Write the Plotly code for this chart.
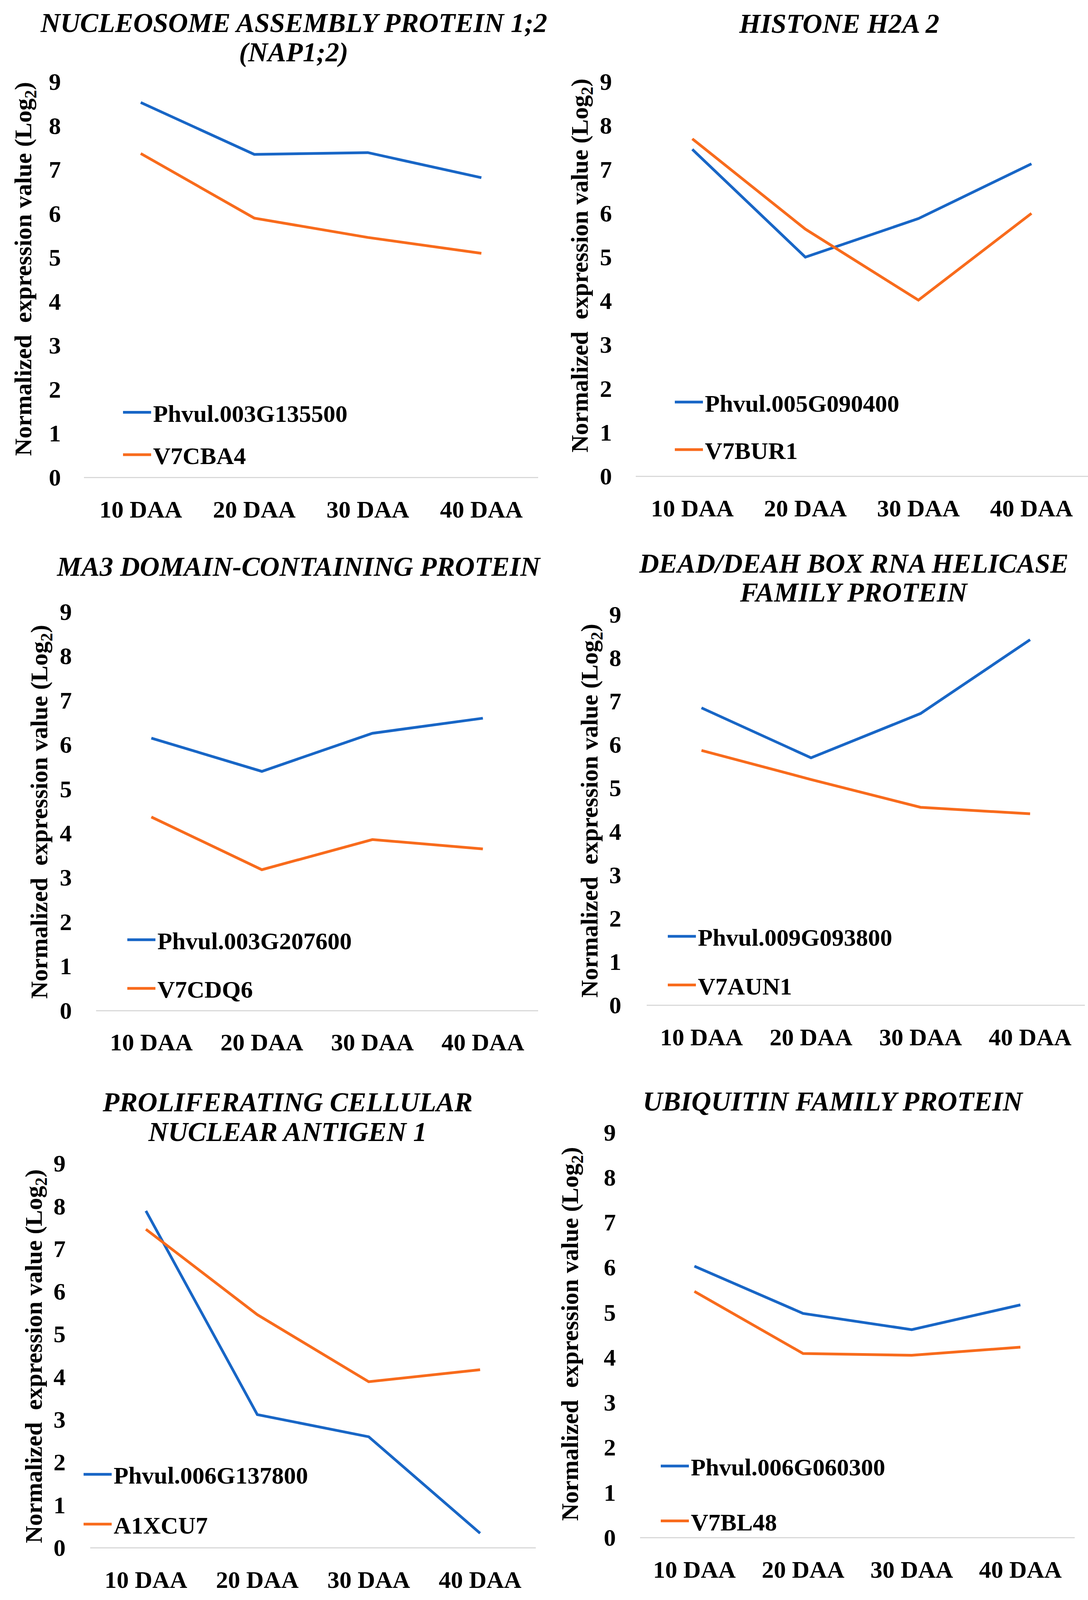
import plotly.graph_objects as go

REF_W, REF_H = 2786, 4226      # reference picture size
FIG_W, FIG_H = 2786, 4096      # visible viewport of the browser window
K = FIG_H / REF_H              # vertical pixel scale

categories = ["10 DAA", "20 DAA", "30 DAA", "40 DAA"]
y_ticks = [0, 1, 2, 3, 4, 5, 6, 7, 8, 9]

titles = [
    ["NUCLEOSOME ASSEMBLY PROTEIN 1;2", "(NAP1;2)"],
    ["HISTONE H2A 2"],
    ["MA3 DOMAIN-CONTAINING PROTEIN"],
    ["DEAD/DEAH BOX RNA HELICASE", "FAMILY PROTEIN"],
    ["PROLIFERATING CELLULAR", "NUCLEAR ANTIGEN 1"],
    ["UBIQUITIN FAMILY PROTEIN"],
]

blue_names = ["Phvul.003G135500", "Phvul.005G090400", "Phvul.003G207600",
              "Phvul.009G093800", "Phvul.006G137800", "Phvul.006G060300"]
orange_names = ["V7CBA4", "V7BUR1", "V7CDQ6", "V7AUN1", "A1XCU7", "V7BL48"]

blue_values = [
    [8.52, 7.34, 7.38, 6.81],
    [7.45, 4.99, 5.87, 7.12],
    [6.14, 5.39, 6.25, 6.59],
    [6.84, 5.69, 6.71, 8.41],
    [7.88, 3.11, 2.59, 0.33],
    [6.02, 4.97, 4.61, 5.16],
]
orange_values = [
    [7.36, 5.89, 5.45, 5.09],
    [7.69, 5.63, 4.01, 5.99],
    [4.36, 3.17, 3.85, 3.64],
    [5.86, 5.19, 4.55, 4.40],
    [7.45, 5.45, 3.88, 4.16],
    [5.46, 4.08, 4.04, 4.22],
]

y_title = "Normalized\u00a0 expression value (Log<sub>2</sub>)"

# layout, in reference pixels
plot_boxes = [  # x0, x1, y_top(9), y_bottom(0)
    (215, 1378, 215, 1260),
    (1628, 2786, 215, 1257),
    (246, 1378, 1615, 2668),
    (1656, 2778, 1622, 2654),
    (231, 1372, 3072, 4087),
    (1639, 2752, 2990, 4060),
]
ytick_standoff = [58, 60, 61, 64, 62, 61]
title_pos = [
    (752, [60, 138]),
    (2148, [62]),
    (765, [1497]),
    (2186, [1488, 1565]),
    (736, [2911, 2989]),
    (2133, [2909]),
]
ytitle_pos = [(63, 711), (1488, 702), (104, 2145), (1513, 2142), (91, 3583), (1464, 3524)]
legend_pos = [  # symbol start x, first row y, row gap
    (315, 1082, 109),
    (1728, 1055, 122),
    (326, 2475, 125),
    (1710, 2466, 125),
    (214, 3887, 128),
    (1692, 3865, 142),
]

BLUE = "#1866C6"
ORANGE = "#F86B1C"
FONT = "Liberation Serif"
TICK_FS = 62
TITLE_FS = 70


def px(x):
    return x / REF_W


def py(y):
    return 1 - y / REF_H


fig = go.Figure()
annotations = []
layout_updates = {}

for i in range(6):
    n = i + 1
    xa = "x" if n == 1 else f"x{n}"
    ya = "y" if n == 1 else f"y{n}"
    lg = "legend" if n == 1 else f"legend{n}"
    fig.add_trace(go.Scatter(x=categories, y=blue_values[i], mode="lines",
                             name=blue_names[i], line=dict(color=BLUE, width=7),
                             xaxis=xa, yaxis=ya, legend=lg, legendgroup=f"b{n}"))
    fig.add_trace(go.Scatter(x=categories, y=orange_values[i], mode="lines",
                             name=orange_names[i], line=dict(color=ORANGE, width=7),
                             xaxis=xa, yaxis=ya, legend=lg, legendgroup=f"o{n}"))
    x0, x1, yt, yb = plot_boxes[i]
    xkey = "xaxis" if n == 1 else f"xaxis{n}"
    ykey = "yaxis" if n == 1 else f"yaxis{n}"
    layout_updates[xkey] = dict(
        domain=[px(x0), px(x1)], anchor=ya, type="category",
        range=[-0.5, 3.5], showgrid=False, zeroline=False,
        showline=True, linecolor="#D9D9D9", linewidth=3, ticks="",
        tickfont=dict(family=FONT, size=TICK_FS, color="black", weight="bold"),
        ticklabelstandoff=int(27 * K), fixedrange=True, automargin=False,
    )
    layout_updates[ykey] = dict(
        domain=[py(yb), py(yt)], anchor=xa, range=[0, 9],
        tickvals=y_ticks, showgrid=False, zeroline=False, showline=False,
        ticks="", tickfont=dict(family=FONT, size=TICK_FS, color="black", weight="bold"),
        ticklabelstandoff=ytick_standoff[i], fixedrange=True, automargin=False,
    )
    lx, ly, gap = legend_pos[i]
    layout_updates[lg] = dict(
        x=px(lx - 5), y=py(ly - 40 / K), xanchor="left", yanchor="top",
        bgcolor="rgba(0,0,0,0)",
        font=dict(family=FONT, size=TICK_FS, color="black", weight="bold"),
        traceorder="grouped", tracegroupgap=max(0, int(gap * K - 80)), itemwidth=72,
    )
    cx, lines = title_pos[i]
    for t, yy in zip(titles[i], lines):
        annotations.append(dict(
            text=t, x=px(cx), y=py(yy), xref="paper", yref="paper",
            xanchor="center", yanchor="middle", showarrow=False,
            font=dict(family=FONT, size=TITLE_FS, color="black", weight="bold", style="italic"),
        ))
    tx, ty = ytitle_pos[i]
    annotations.append(dict(
        text=y_title, x=px(tx), y=py(ty), xref="paper", yref="paper",
        xanchor="center", yanchor="middle", showarrow=False, textangle=-90,
        font=dict(family=FONT, size=TICK_FS, color="black", weight="bold"),
    ))

fig.update_layout(
    width=FIG_W, height=FIG_H,
    margin=dict(l=0, r=0, t=0, b=0, pad=0, autoexpand=False),
    paper_bgcolor="white", plot_bgcolor="white",
    showlegend=True, annotations=annotations, **layout_updates,
)

fig.write_html("out.html", config={"displayModeBar": False},
               post_script="document.body.style.margin='0';")
